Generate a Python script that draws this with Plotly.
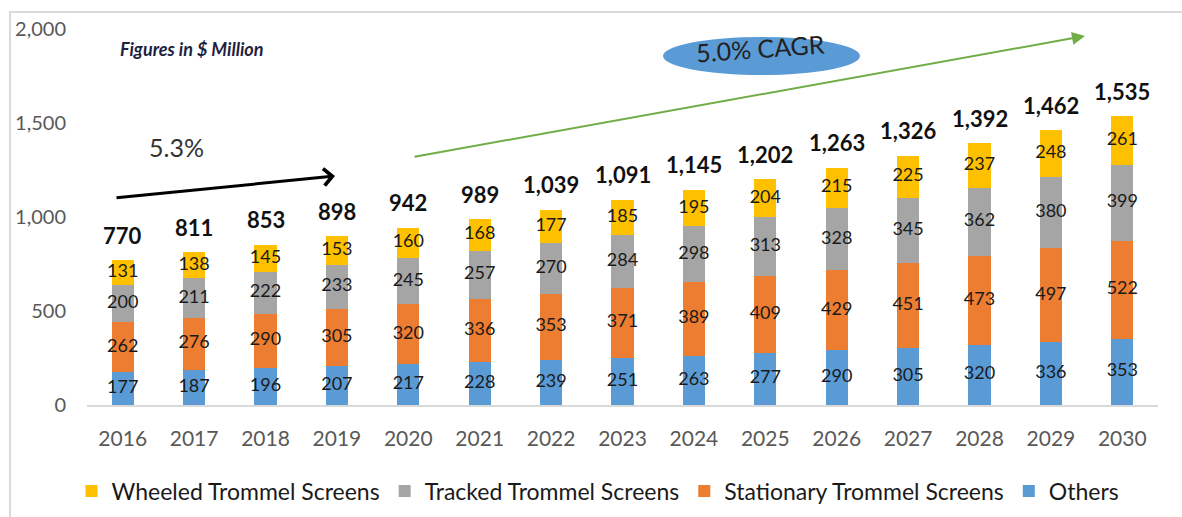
import plotly.graph_objects as go

# Market size by segment, $ Million
years = ["2016", "2017", "2018", "2019", "2020", "2021", "2022", "2023",
         "2024", "2025", "2026", "2027", "2028", "2029", "2030"]
others = [177, 187, 196, 207, 217, 228, 239, 251, 263, 277, 290, 305, 320, 336, 353]
stationary = [262, 276, 290, 305, 320, 336, 353, 371, 389, 409, 429, 451, 473, 497, 522]
tracked = [200, 211, 222, 233, 245, 257, 270, 284, 298, 313, 328, 345, 362, 380, 399]
wheeled = [131, 138, 145, 153, 160, 168, 177, 185, 195, 204, 215, 225, 237, 248, 261]
totals = [770, 811, 853, 898, 942, 989, 1039, 1091, 1145, 1202, 1263, 1326, 1392, 1462, 1535]

series = [
    ("Others", others, "#5B9BD5"),
    ("Stationary Trommel Screens", stationary, "#ED7D31"),
    ("Tracked Trommel Screens", tracked, "#A5A5A5"),
    ("Wheeled Trommel Screens", wheeled, "#FFC000"),
]

W, H = 1182, 517
PL, PR, PT, PB = 87, 1158, 29, 405  # plot-area edges in pixels


def px(x):
    return (x - PL) / (PR - PL)


def py(y):
    return (PB - y) / (PB - PT)


FONT = "Lato, 'Noto Sans', sans-serif"

fig = go.Figure()

base = [0] * len(years)
for name, vals, color in series:
    fig.add_trace(go.Bar(x=years, y=vals, name=name, marker_color=color,
                         marker_line_width=0))
    mids = [b + v / 2 for b, v in zip(base, vals)]
    fig.add_trace(go.Scatter(x=years, y=mids, mode="text",
                             text=[str(v) for v in vals],
                             textfont=dict(size=18, color="#1a1a1a", family=FONT),
                             showlegend=False, hoverinfo="skip"))
    base = [b + v for b, v in zip(base, vals)]

# totals above each stack (category axes take the category index)
annotations = []
for i, t in enumerate(totals):
    annotations.append(dict(x=i, y=t, xref="x", yref="y", text=f"<b>{t:,}</b>",
                            showarrow=False, yshift=25,
                            xanchor="center", yanchor="middle",
                            font=dict(size=22, color="#111111", family=FONT)))

annotations += [
    dict(x=px(118), y=py(49), xref="paper", yref="paper",
         xanchor="left", yanchor="middle",
         text="<b><i>Figures in $ Million</i></b>", showarrow=False,
         font=dict(size=18, color="#1F1F3F", family=FONT)),
    dict(x=px(176), y=py(147), xref="paper", yref="paper",
         xanchor="center", yanchor="middle",
         text="5.3%", showarrow=False,
         font=dict(size=25, color="#333333", family=FONT)),
    # short-term growth arrow
    dict(x=px(335), y=py(176), xref="paper", yref="paper", text="",
         showarrow=True, ax=-220, ay=22, axref="pixel", ayref="pixel",
         arrowhead=4, arrowsize=1.1, arrowwidth=3, arrowcolor="#000000"),
    # forecast growth arrow
    dict(x=px(1085), y=py(36), xref="paper", yref="paper", text="",
         showarrow=True, ax=-672, ay=121, axref="pixel", ayref="pixel",
         arrowhead=2, arrowsize=1.3, arrowwidth=2, arrowcolor="#70AD47"),
    dict(x=px(760), y=py(48), xref="paper", yref="paper",
         xanchor="center", yanchor="middle",
         text="5.0% CAGR", showarrow=False, textangle=-4,
         font=dict(size=25, color="#222222", family=FONT)),
]

shapes = [
    # chart-area border
    dict(type="rect", xref="paper", yref="paper",
         x0=px(10), x1=px(1195), y0=py(530), y1=py(12),
         line=dict(color="#D9D9D9", width=2), fillcolor="rgba(0,0,0,0)", layer="below"),
    dict(type="circle", xref="paper", yref="paper",
         x0=px(663), x1=px(860), y0=py(75), y1=py(37),
         fillcolor="#5B9BD5", line=dict(width=0), layer="below"),
]

fig.update_layout(
    width=W, height=H,
    margin=dict(l=PL, r=W - PR, t=PT, b=H - PB, autoexpand=False),
    barmode="stack", bargap=0.69,
    plot_bgcolor="white", paper_bgcolor="white",
    font=dict(family=FONT),
    showlegend=True,
    legend=dict(orientation="h", x=px(598), xanchor="center",
                y=py(491), yanchor="middle", traceorder="reversed",
                font=dict(size=23, color="#1a1a1a", family=FONT),
                itemclick=False),
    annotations=annotations,
    shapes=shapes,
)
fig.update_xaxes(type="category", range=[-0.5, len(years) - 0.5],
                 showline=True, linecolor="#D9D9D9", linewidth=2,
                 ticks="", showgrid=False, tickfont=dict(size=21, color="#595959"),
                 ticklabelstandoff=14)
fig.update_yaxes(range=[0, 2000], tickvals=[0, 500, 1000, 1500, 2000],
                 tickformat=",", showgrid=False, zeroline=False, ticks="",
                 tickfont=dict(size=20, color="#595959"), ticklabelstandoff=20)

fig.write_html("out.html")
